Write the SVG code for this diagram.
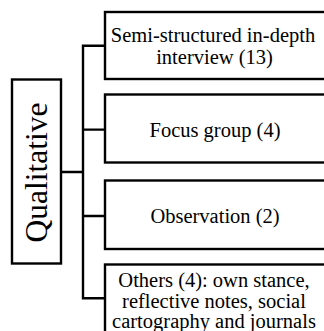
<svg xmlns="http://www.w3.org/2000/svg" width="324" height="331" viewBox="0 0 324 331">
<style>
.box{fill:#fff;stroke:#000;stroke-width:2.4}
.conn{fill:none;stroke:#000;stroke-width:2.4}
text{font-family:"Liberation Serif","Times New Roman",serif;font-size:20.5px;fill:#000;text-anchor:middle}
.big{font-size:31.5px}
</style>
<rect width="324" height="331" fill="#fff"/>
<g id="connectors">
<path class="conn" d="M105,45.8 H83 V298.3 H105 M83,129.6 H105 M83,216 H105 M61,172 H83"/>
</g>
<g id="qualitative">
<rect class="box" x="12" y="79.5" width="49" height="184"/>
<text class="big" transform="translate(47,172.5) rotate(-90)" x="0" y="0">Qualitative</text>
</g>
<g id="interview">
<rect class="box" x="105" y="12" width="225" height="67"/>
<text><tspan x="213" y="41.5">Semi-structured in-depth</tspan><tspan x="214.5" y="63.5">interview (13)</tspan></text>
</g>
<g id="focus">
<rect class="box" x="105" y="94.5" width="225" height="68"/>
<text x="215" y="136.5">Focus group (4)</text>
</g>
<g id="observation">
<rect class="box" x="105" y="180.5" width="225" height="68.5"/>
<text x="215" y="222.5">Observation (2)</text>
</g>
<g id="others">
<rect class="box" x="105" y="264.5" width="225" height="80"/>
<text><tspan x="214" y="286.5">Others (4): own stance,</tspan><tspan x="214" y="307.5">reflective notes, social</tspan><tspan x="214" y="327.5">cartography and journals</tspan></text>
</g>
</svg>
